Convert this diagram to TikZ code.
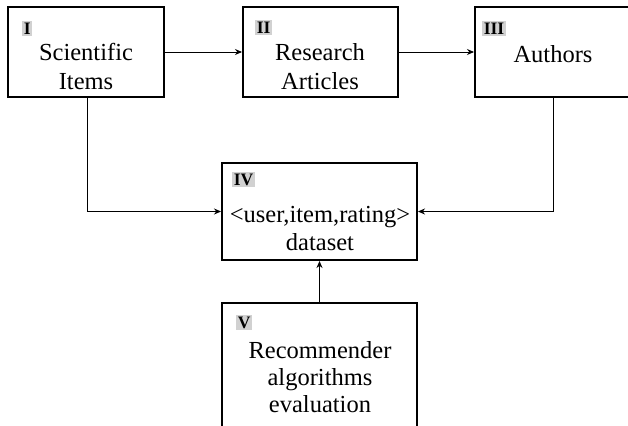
\documentclass[tikz,border=0pt]{standalone}
\usepackage{fontspec}
\setmainfont{Liberation Serif}
\usetikzlibrary{arrows.meta}
\begin{document}
\begin{tikzpicture}[x=1pt,y=-1pt,
  stage/.style={draw=black, line width=2pt, fill=white, inner sep=0pt},
  tag/.style={fill=black!18, inner sep=1.6pt, font=\fontsize{17.5}{17.5}\selectfont\bfseries, anchor=north west},
  txt/.style={font=\fontsize{24.5}{28}\selectfont, anchor=base, inner sep=0pt},
  link/.style={line width=0.9pt, -{Stealth[length=7pt,width=6pt]}}]
\useasboundingbox (0,0) rectangle (628,425);
\clip (0,0) rectangle (628,425);

% stage boxes
\node[stage, minimum width=156pt, minimum height=90pt] (I) at (86,52) {};
\node[stage, minimum width=155pt, minimum height=90pt] (II) at (320.5,52) {};
\node[stage, minimum width=156pt, minimum height=90pt] (III) at (553,52) {};
\node[stage, minimum width=195pt, minimum height=97pt] (IV) at (319.5,211.5) {};
\node[stage, minimum width=195pt, minimum height=140pt] (V) at (319.5,373) {};

% roman numeral tags
\node[tag] (tI) at (22,21) {I};
\node[tag] (tII) at (255,20) {II};
\node[tag] (tIII) at (482,21) {III};
\node[tag] (tIV) at (232,172) {IV};
\node[tag] (tV) at (236,315) {V};

% box texts
\node[txt] (a1) at (86,61) {Scientific};
\node[txt] (a2) at (86,89) {Items};
\node[txt] (b1) at (320,61) {Research};
\node[txt] (b2) at (320,89) {Articles};
\node[txt] (c1) at (553,63) {Authors};
\node[txt] (d1) at (320,222) {<user,item,rating>};
\node[txt] (d2) at (320,250) {dataset};
\node[txt] (e1) at (320,358) {Recommender};
\node[txt] (e2) at (320,385) {algorithms};
\node[txt] (e3) at (320,412) {evaluation};

% connectors
\draw[link] (I.east) -- (II.west);
\draw[link] (II.east) -- (III.west);
\draw[link] (I.south -| 87,0) |- (IV.west);
\draw[link] (III.south) |- (IV.east);
\draw[link] (V.north) -- (IV.south);
\end{tikzpicture}
\end{document}
